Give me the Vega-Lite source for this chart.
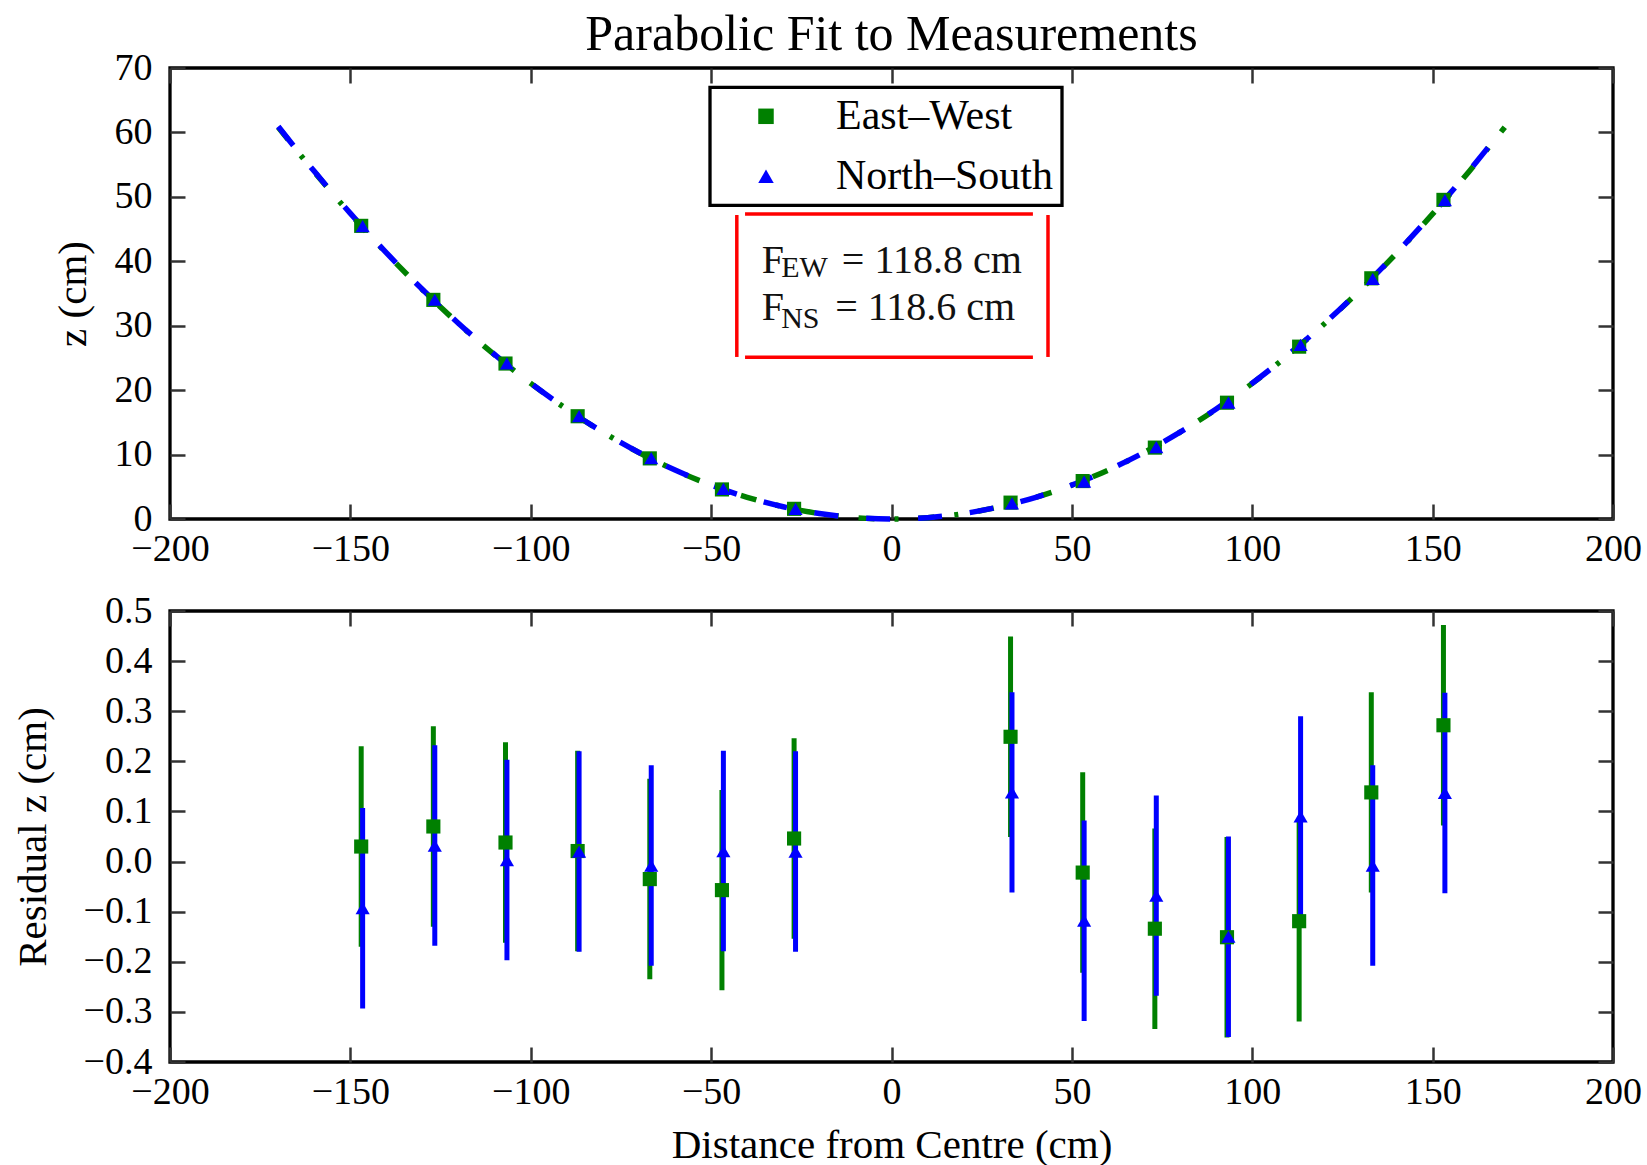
{
  "$schema": "https://vega.github.io/schema/vega-lite/v6.json",
  "autosize": {"type": "none"},
  "padding": {"left": 170, "top": 68, "right": 1477, "bottom": 1097},
  "background": "white",
  "spacing": 92,
  "bounds": "flush",
  "title": {"text": "Parabolic Fit to Measurements", "font": "Liberation Serif", "fontSize": 50, "fontWeight": "normal", "color": "black", "anchor": "start", "align": "center", "frame": "group", "baseline": "alphabetic", "offset": 0, "dx": 721.5, "dy": 53},
  "datasets": {
    "fit": [
      {"x": -170, "zew": 60.816, "zns": 60.919},
      {"x": -160, "zew": 53.872, "zns": 53.963},
      {"x": -150, "zew": 47.348, "zns": 47.428},
      {"x": -140, "zew": 41.246, "zns": 41.315},
      {"x": -130, "zew": 35.564, "zns": 35.624},
      {"x": -120, "zew": 30.303, "zns": 30.354},
      {"x": -110, "zew": 25.463, "zns": 25.506},
      {"x": -100, "zew": 21.044, "zns": 21.079},
      {"x": -90, "zew": 17.045, "zns": 17.074},
      {"x": -80, "zew": 13.468, "zns": 13.491},
      {"x": -70, "zew": 10.311, "zns": 10.329},
      {"x": -60, "zew": 7.576, "zns": 7.589},
      {"x": -50, "zew": 5.261, "zns": 5.270},
      {"x": -40, "zew": 3.367, "zns": 3.373},
      {"x": -30, "zew": 1.894, "zns": 1.897},
      {"x": -20, "zew": 0.842, "zns": 0.843},
      {"x": -10, "zew": 0.210, "zns": 0.211},
      {"x": 0, "zew": 0, "zns": 0},
      {"x": 10, "zew": 0.210, "zns": 0.211},
      {"x": 20, "zew": 0.842, "zns": 0.843},
      {"x": 30, "zew": 1.894, "zns": 1.897},
      {"x": 40, "zew": 3.367, "zns": 3.373},
      {"x": 50, "zew": 5.261, "zns": 5.270},
      {"x": 60, "zew": 7.576, "zns": 7.589},
      {"x": 70, "zew": 10.311, "zns": 10.329},
      {"x": 80, "zew": 13.468, "zns": 13.491},
      {"x": 90, "zew": 17.045, "zns": 17.074},
      {"x": 100, "zew": 21.044, "zns": 21.079},
      {"x": 110, "zew": 25.463, "zns": 25.506},
      {"x": 120, "zew": 30.303, "zns": 30.354},
      {"x": 130, "zew": 35.564, "zns": 35.624},
      {"x": 140, "zew": 41.246, "zns": 41.315},
      {"x": 150, "zew": 47.348, "zns": 47.428},
      {"x": 160, "zew": 53.872, "zns": 53.963},
      {"x": 170, "zew": 60.816, "zns": 60.919}
    ],
    "meas": [
      {"series": "East–West", "x": -147, "z": 45.50, "res": 0.030, "lo": -0.170, "hi": 0.230},
      {"series": "East–West", "x": -127, "z": 34.01, "res": 0.070, "lo": -0.130, "hi": 0.270},
      {"series": "East–West", "x": -107, "z": 24.13, "res": 0.038, "lo": -0.162, "hi": 0.238},
      {"series": "East–West", "x": -87, "z": 15.95, "res": 0.021, "lo": -0.179, "hi": 0.221},
      {"series": "East–West", "x": -67, "z": 9.41, "res": -0.035, "lo": -0.235, "hi": 0.165},
      {"series": "East–West", "x": -47, "z": 4.59, "res": -0.057, "lo": -0.257, "hi": 0.143},
      {"series": "East–West", "x": -27, "z": 1.58, "res": 0.046, "lo": -0.154, "hi": 0.246},
      {"series": "East–West", "x": 33, "z": 2.54, "res": 0.249, "lo": 0.049, "hi": 0.449},
      {"series": "East–West", "x": 53, "z": 5.89, "res": -0.022, "lo": -0.222, "hi": 0.178},
      {"series": "East–West", "x": 73, "z": 11.08, "res": -0.134, "lo": -0.334, "hi": 0.066},
      {"series": "East–West", "x": 93, "z": 18.05, "res": -0.151, "lo": -0.351, "hi": 0.049},
      {"series": "East–West", "x": 113, "z": 26.75, "res": -0.119, "lo": -0.319, "hi": 0.081},
      {"series": "East–West", "x": 133, "z": 37.36, "res": 0.138, "lo": -0.062, "hi": 0.338},
      {"series": "East–West", "x": 153, "z": 49.53, "res": 0.272, "lo": 0.072, "hi": 0.472},
      {"series": "North–South", "x": -146.6, "z": 45.46, "res": -0.093, "lo": -0.293, "hi": 0.107},
      {"series": "North–South", "x": -126.6, "z": 34.03, "res": 0.032, "lo": -0.168, "hi": 0.232},
      {"series": "North–South", "x": -106.6, "z": 24.14, "res": 0.003, "lo": -0.197, "hi": 0.203},
      {"series": "North–South", "x": -86.6, "z": 15.98, "res": 0.020, "lo": -0.180, "hi": 0.220},
      {"series": "North–South", "x": -66.6, "z": 9.45, "res": -0.008, "lo": -0.208, "hi": 0.192},
      {"series": "North–South", "x": -46.6, "z": 4.68, "res": 0.021, "lo": -0.179, "hi": 0.221},
      {"series": "North–South", "x": -26.6, "z": 1.56, "res": 0.020, "lo": -0.180, "hi": 0.220},
      {"series": "North–South", "x": 33.4, "z": 2.43, "res": 0.138, "lo": -0.062, "hi": 0.338},
      {"series": "North–South", "x": 53.4, "z": 5.80, "res": -0.118, "lo": -0.318, "hi": 0.082},
      {"series": "North–South", "x": 73.4, "z": 11.16, "res": -0.068, "lo": -0.268, "hi": 0.132},
      {"series": "North–South", "x": 93.4, "z": 18.08, "res": -0.150, "lo": -0.350, "hi": 0.050},
      {"series": "North–South", "x": 113.4, "z": 27.01, "res": 0.090, "lo": -0.110, "hi": 0.290},
      {"series": "North–South", "x": 133.4, "z": 37.28, "res": -0.008, "lo": -0.208, "hi": 0.192},
      {"series": "North–South", "x": 153.4, "z": 49.48, "res": 0.137, "lo": -0.063, "hi": 0.337}
    ]
  },
  "vconcat": [
    {
      "width": 1443,
      "height": 451,
      "resolve": {"axis": {"x": "independent", "y": "independent"}},
      "layer": [
        {
          "data": {"name": "fit"},
          "mark": {"type": "line", "color": "#008000", "strokeWidth": 5.5, "strokeDash": [16, 20, 4, 20], "interpolate": "monotone"},
          "encoding": {
            "x": {"field": "x", "type": "quantitative", "scale": {"domain": [-200, 200], "nice": false, "zero": false},
                  "axis": {"orient": "bottom", "values": [-200, -150, -100, -50, 0, 50, 100, 150, 200], "format": "d", "title": null, "tickSize": -15, "labelPadding": 26}},
            "y": {"field": "zew", "type": "quantitative", "scale": {"domain": [0, 70], "nice": false, "zero": false},
                  "axis": {"orient": "left", "values": [0, 10, 20, 30, 40, 50, 60, 70], "format": "d", "title": "z (cm)", "tickSize": -15, "labelPadding": 33,
                           "titleX": -97, "titleY": 225.5, "titleAngle": 270, "titleAlign": "center", "titleBaseline": "middle"}}
          }
        },
        {
          "data": {"name": "fit"},
          "mark": {"type": "line", "color": "#0000ff", "strokeWidth": 5.5, "strokeDash": [24, 28], "interpolate": "monotone"},
          "encoding": {
            "x": {"field": "x", "type": "quantitative", "scale": {"domain": [-200, 200], "nice": false, "zero": false}, "axis": null},
            "y": {"field": "zns", "type": "quantitative", "scale": {"domain": [0, 70], "nice": false, "zero": false}, "axis": null}
          }
        },
        {
          "data": {"name": "meas"},
          "mark": {"type": "point", "filled": true, "opacity": 1, "size": 200, "strokeWidth": 0},
          "encoding": {
            "x": {"field": "x", "type": "quantitative", "scale": {"domain": [-200, 200], "nice": false, "zero": false}, "axis": null},
            "y": {"field": "z", "type": "quantitative", "scale": {"domain": [0, 70], "nice": false, "zero": false}, "axis": null},
            "color": {"field": "series", "type": "nominal", "scale": {"domain": ["East–West", "North–South"], "range": ["#008000", "#0000ff"]},
                      "legend": {"orient": "none", "legendX": 540, "legendY": 19.3, "title": null, "padding": 8, "rowPadding": 18, "symbolOffset": 27, "labelOffset": 49, "labelLimit": 500, "symbolSize": 240, "labelFontSize": 42, "labelFont": "Liberation Serif", "labelColor": "black", "strokeColor": "black", "symbolStrokeWidth": 0}},
            "shape": {"field": "series", "type": "nominal", "scale": {"domain": ["East–West", "North–South"], "range": ["square", "triangle-up"]},
                      "legend": {"orient": "none", "legendX": 540, "legendY": 19.3, "title": null, "padding": 8, "rowPadding": 18, "symbolOffset": 27, "labelOffset": 49, "labelLimit": 500, "symbolSize": 240, "labelFontSize": 42, "labelFont": "Liberation Serif", "labelColor": "black", "strokeColor": "black", "symbolStrokeWidth": 0}}
          }
        },
        {
          "data": {"values": [{}]},
          "mark": {"type": "rule", "color": "#ff0000", "strokeWidth": 3.5},
          "encoding": {
            "x": {"datum": -40.6, "type": "quantitative", "scale": {"domain": [-200, 200], "nice": false, "zero": false}, "axis": null},
            "x2": {"datum": 39.2},
            "y": {"datum": 47.34, "type": "quantitative", "scale": {"domain": [0, 70], "nice": false, "zero": false}, "axis": null}
          }
        },
        {
          "data": {"values": [{}]},
          "mark": {"type": "rule", "color": "#ff0000", "strokeWidth": 3.5},
          "encoding": {
            "x": {"datum": -40.6, "type": "quantitative", "scale": {"domain": [-200, 200], "nice": false, "zero": false}, "axis": null},
            "x2": {"datum": 39.2},
            "y": {"datum": 25.1, "type": "quantitative", "scale": {"domain": [0, 70], "nice": false, "zero": false}, "axis": null}
          }
        },
        {
          "data": {"values": [{}]},
          "mark": {"type": "rule", "color": "#ff0000", "strokeWidth": 3.5},
          "encoding": {
            "x": {"datum": -42.88, "type": "quantitative", "scale": {"domain": [-200, 200], "nice": false, "zero": false}, "axis": null},
            "y": {"datum": 47.18, "type": "quantitative", "scale": {"domain": [0, 70], "nice": false, "zero": false}, "axis": null},
            "y2": {"datum": 25.15}
          }
        },
        {
          "data": {"values": [{}]},
          "mark": {"type": "rule", "color": "#ff0000", "strokeWidth": 3.5},
          "encoding": {
            "x": {"datum": 43.38, "type": "quantitative", "scale": {"domain": [-200, 200], "nice": false, "zero": false}, "axis": null},
            "y": {"datum": 47.18, "type": "quantitative", "scale": {"domain": [0, 70], "nice": false, "zero": false}, "axis": null},
            "y2": {"datum": 25.15}
          }
        },
        {
          "data": {"values": [{"t": "F"}]},
          "mark": {"type": "text", "font": "Liberation Serif", "fontSize": 40, "align": "left", "baseline": "alphabetic", "color": "#111"},
          "encoding": {
            "x": {"datum": -35.94, "type": "quantitative", "scale": {"domain": [-200, 200], "nice": false, "zero": false}, "axis": null},
            "y": {"datum": 38.18, "type": "quantitative", "scale": {"domain": [0, 70], "nice": false, "zero": false}, "axis": null},
            "text": {"field": "t"}
          }
        },
        {
          "data": {"values": [{"t": "EW"}]},
          "mark": {"type": "text", "font": "Liberation Serif", "fontSize": 30, "align": "left", "baseline": "alphabetic", "color": "#111"},
          "encoding": {
            "x": {"datum": -30.59, "type": "quantitative", "scale": {"domain": [-200, 200], "nice": false, "zero": false}, "axis": null},
            "y": {"datum": 37.51, "type": "quantitative", "scale": {"domain": [0, 70], "nice": false, "zero": false}, "axis": null},
            "text": {"field": "t"}
          }
        },
        {
          "data": {"values": [{"t": "= 118.8 cm"}]},
          "mark": {"type": "text", "font": "Liberation Serif", "fontSize": 40, "align": "left", "baseline": "alphabetic", "color": "#111"},
          "encoding": {
            "x": {"datum": -13.76, "type": "quantitative", "scale": {"domain": [-200, 200], "nice": false, "zero": false}, "axis": null},
            "y": {"datum": 38.18, "type": "quantitative", "scale": {"domain": [0, 70], "nice": false, "zero": false}, "axis": null},
            "text": {"field": "t"}
          }
        },
        {
          "data": {"values": [{"t": "F"}]},
          "mark": {"type": "text", "font": "Liberation Serif", "fontSize": 40, "align": "left", "baseline": "alphabetic", "color": "#111"},
          "encoding": {
            "x": {"datum": -35.94, "type": "quantitative", "scale": {"domain": [-200, 200], "nice": false, "zero": false}, "axis": null},
            "y": {"datum": 30.84, "type": "quantitative", "scale": {"domain": [0, 70], "nice": false, "zero": false}, "axis": null},
            "text": {"field": "t"}
          }
        },
        {
          "data": {"values": [{"t": "NS"}]},
          "mark": {"type": "text", "font": "Liberation Serif", "fontSize": 30, "align": "left", "baseline": "alphabetic", "color": "#111"},
          "encoding": {
            "x": {"datum": -30.59, "type": "quantitative", "scale": {"domain": [-200, 200], "nice": false, "zero": false}, "axis": null},
            "y": {"datum": 29.6, "type": "quantitative", "scale": {"domain": [0, 70], "nice": false, "zero": false}, "axis": null},
            "text": {"field": "t"}
          }
        },
        {
          "data": {"values": [{"t": "= 118.6 cm"}]},
          "mark": {"type": "text", "font": "Liberation Serif", "fontSize": 40, "align": "left", "baseline": "alphabetic", "color": "#111"},
          "encoding": {
            "x": {"datum": -15.62, "type": "quantitative", "scale": {"domain": [-200, 200], "nice": false, "zero": false}, "axis": null},
            "y": {"datum": 30.84, "type": "quantitative", "scale": {"domain": [0, 70], "nice": false, "zero": false}, "axis": null},
            "text": {"field": "t"}
          }
        },
        {
          "data": {"name": "fit"},
          "mark": {"type": "point", "opacity": 0},
          "encoding": {
            "x": {"field": "x", "type": "quantitative", "scale": {"domain": [-200, 200], "nice": false, "zero": false},
                  "axis": {"orient": "top", "values": [-200, -150, -100, -50, 0, 50, 100, 150, 200], "labels": false, "title": null, "tickSize": -15}},
            "y": {"field": "zew", "type": "quantitative", "scale": {"domain": [0, 70], "nice": false, "zero": false},
                  "axis": {"orient": "right", "values": [0, 10, 20, 30, 40, 50, 60, 70], "labels": false, "title": null, "tickSize": -15}}
          }
        }
      ]
    },
    {
      "width": 1443,
      "height": 451,
      "resolve": {"axis": {"x": "independent", "y": "independent"}},
      "layer": [
        {
          "data": {"name": "meas"},
          "transform": [{"filter": "datum.series === 'East–West'"}],
          "mark": {"type": "rule", "color": "#008000", "strokeWidth": 5},
          "encoding": {
            "x": {"field": "x", "type": "quantitative", "scale": {"domain": [-200, 200], "nice": false, "zero": false},
                  "axis": {"orient": "bottom", "values": [-200, -150, -100, -50, 0, 50, 100, 150, 200], "format": "d", "title": "Distance from Centre (cm)", "tickSize": -15, "labelPadding": 26,
                           "titleX": 721.5, "titleY": 83, "titleAlign": "center", "titleBaseline": "middle"}},
            "y": {"field": "lo", "type": "quantitative", "scale": {"domain": [-0.4, 0.5], "nice": false, "zero": false},
                  "axis": {"orient": "left", "values": [-0.4, -0.3, -0.2, -0.1, 0, 0.1, 0.2, 0.3, 0.4, 0.5], "format": ".1f", "title": "Residual z (cm)", "tickSize": -15, "labelPadding": 33,
                           "titleX": -136.4, "titleY": 225.5, "titleAngle": 270, "titleAlign": "center", "titleBaseline": "middle"}},
            "y2": {"field": "hi"}
          }
        },
        {
          "data": {"name": "meas"},
          "transform": [{"filter": "datum.series === 'North–South'"}],
          "mark": {"type": "rule", "color": "#0000ff", "strokeWidth": 5},
          "encoding": {
            "x": {"field": "x", "type": "quantitative", "scale": {"domain": [-200, 200], "nice": false, "zero": false}, "axis": null},
            "y": {"field": "lo", "type": "quantitative", "scale": {"domain": [-0.4, 0.5], "nice": false, "zero": false}, "axis": null},
            "y2": {"field": "hi"}
          }
        },
        {
          "data": {"name": "meas"},
          "transform": [{"filter": "datum.series === 'East–West'"}],
          "mark": {"type": "point", "shape": "square", "filled": true, "opacity": 1, "color": "#008000", "size": 200, "strokeWidth": 0},
          "encoding": {
            "x": {"field": "x", "type": "quantitative", "scale": {"domain": [-200, 200], "nice": false, "zero": false}, "axis": null},
            "y": {"field": "res", "type": "quantitative", "scale": {"domain": [-0.4, 0.5], "nice": false, "zero": false}, "axis": null}
          }
        },
        {
          "data": {"name": "meas"},
          "transform": [{"filter": "datum.series === 'North–South'"}],
          "mark": {"type": "point", "shape": "triangle-up", "filled": true, "opacity": 1, "color": "#0000ff", "size": 200, "strokeWidth": 0},
          "encoding": {
            "x": {"field": "x", "type": "quantitative", "scale": {"domain": [-200, 200], "nice": false, "zero": false}, "axis": null},
            "y": {"field": "res", "type": "quantitative", "scale": {"domain": [-0.4, 0.5], "nice": false, "zero": false}, "axis": null}
          }
        },
        {
          "data": {"name": "meas"},
          "mark": {"type": "point", "opacity": 0},
          "encoding": {
            "x": {"field": "x", "type": "quantitative", "scale": {"domain": [-200, 200], "nice": false, "zero": false},
                  "axis": {"orient": "top", "values": [-200, -150, -100, -50, 0, 50, 100, 150, 200], "labels": false, "title": null, "tickSize": -15}},
            "y": {"field": "res", "type": "quantitative", "scale": {"domain": [-0.4, 0.5], "nice": false, "zero": false},
                  "axis": {"orient": "right", "values": [-0.4, -0.3, -0.2, -0.1, 0, 0.1, 0.2, 0.3, 0.4, 0.5], "labels": false, "title": null, "tickSize": -15}}
          }
        }
      ]
    }
  ],
  "config": {
    "view": {"stroke": "black", "strokeWidth": 3.3},
    "axis": {"domain": false, "grid": false, "tickColor": "#333333", "tickWidth": 2.5, "labelFont": "Liberation Serif", "labelFontSize": 38, "labelColor": "black", "labelFlush": false, "labelOverlap": false, "titleFont": "Liberation Serif", "titleFontSize": 41, "titleFontWeight": "normal", "titleColor": "black"},
    "legend": {"strokeWidth": 3.3}
  }
}
